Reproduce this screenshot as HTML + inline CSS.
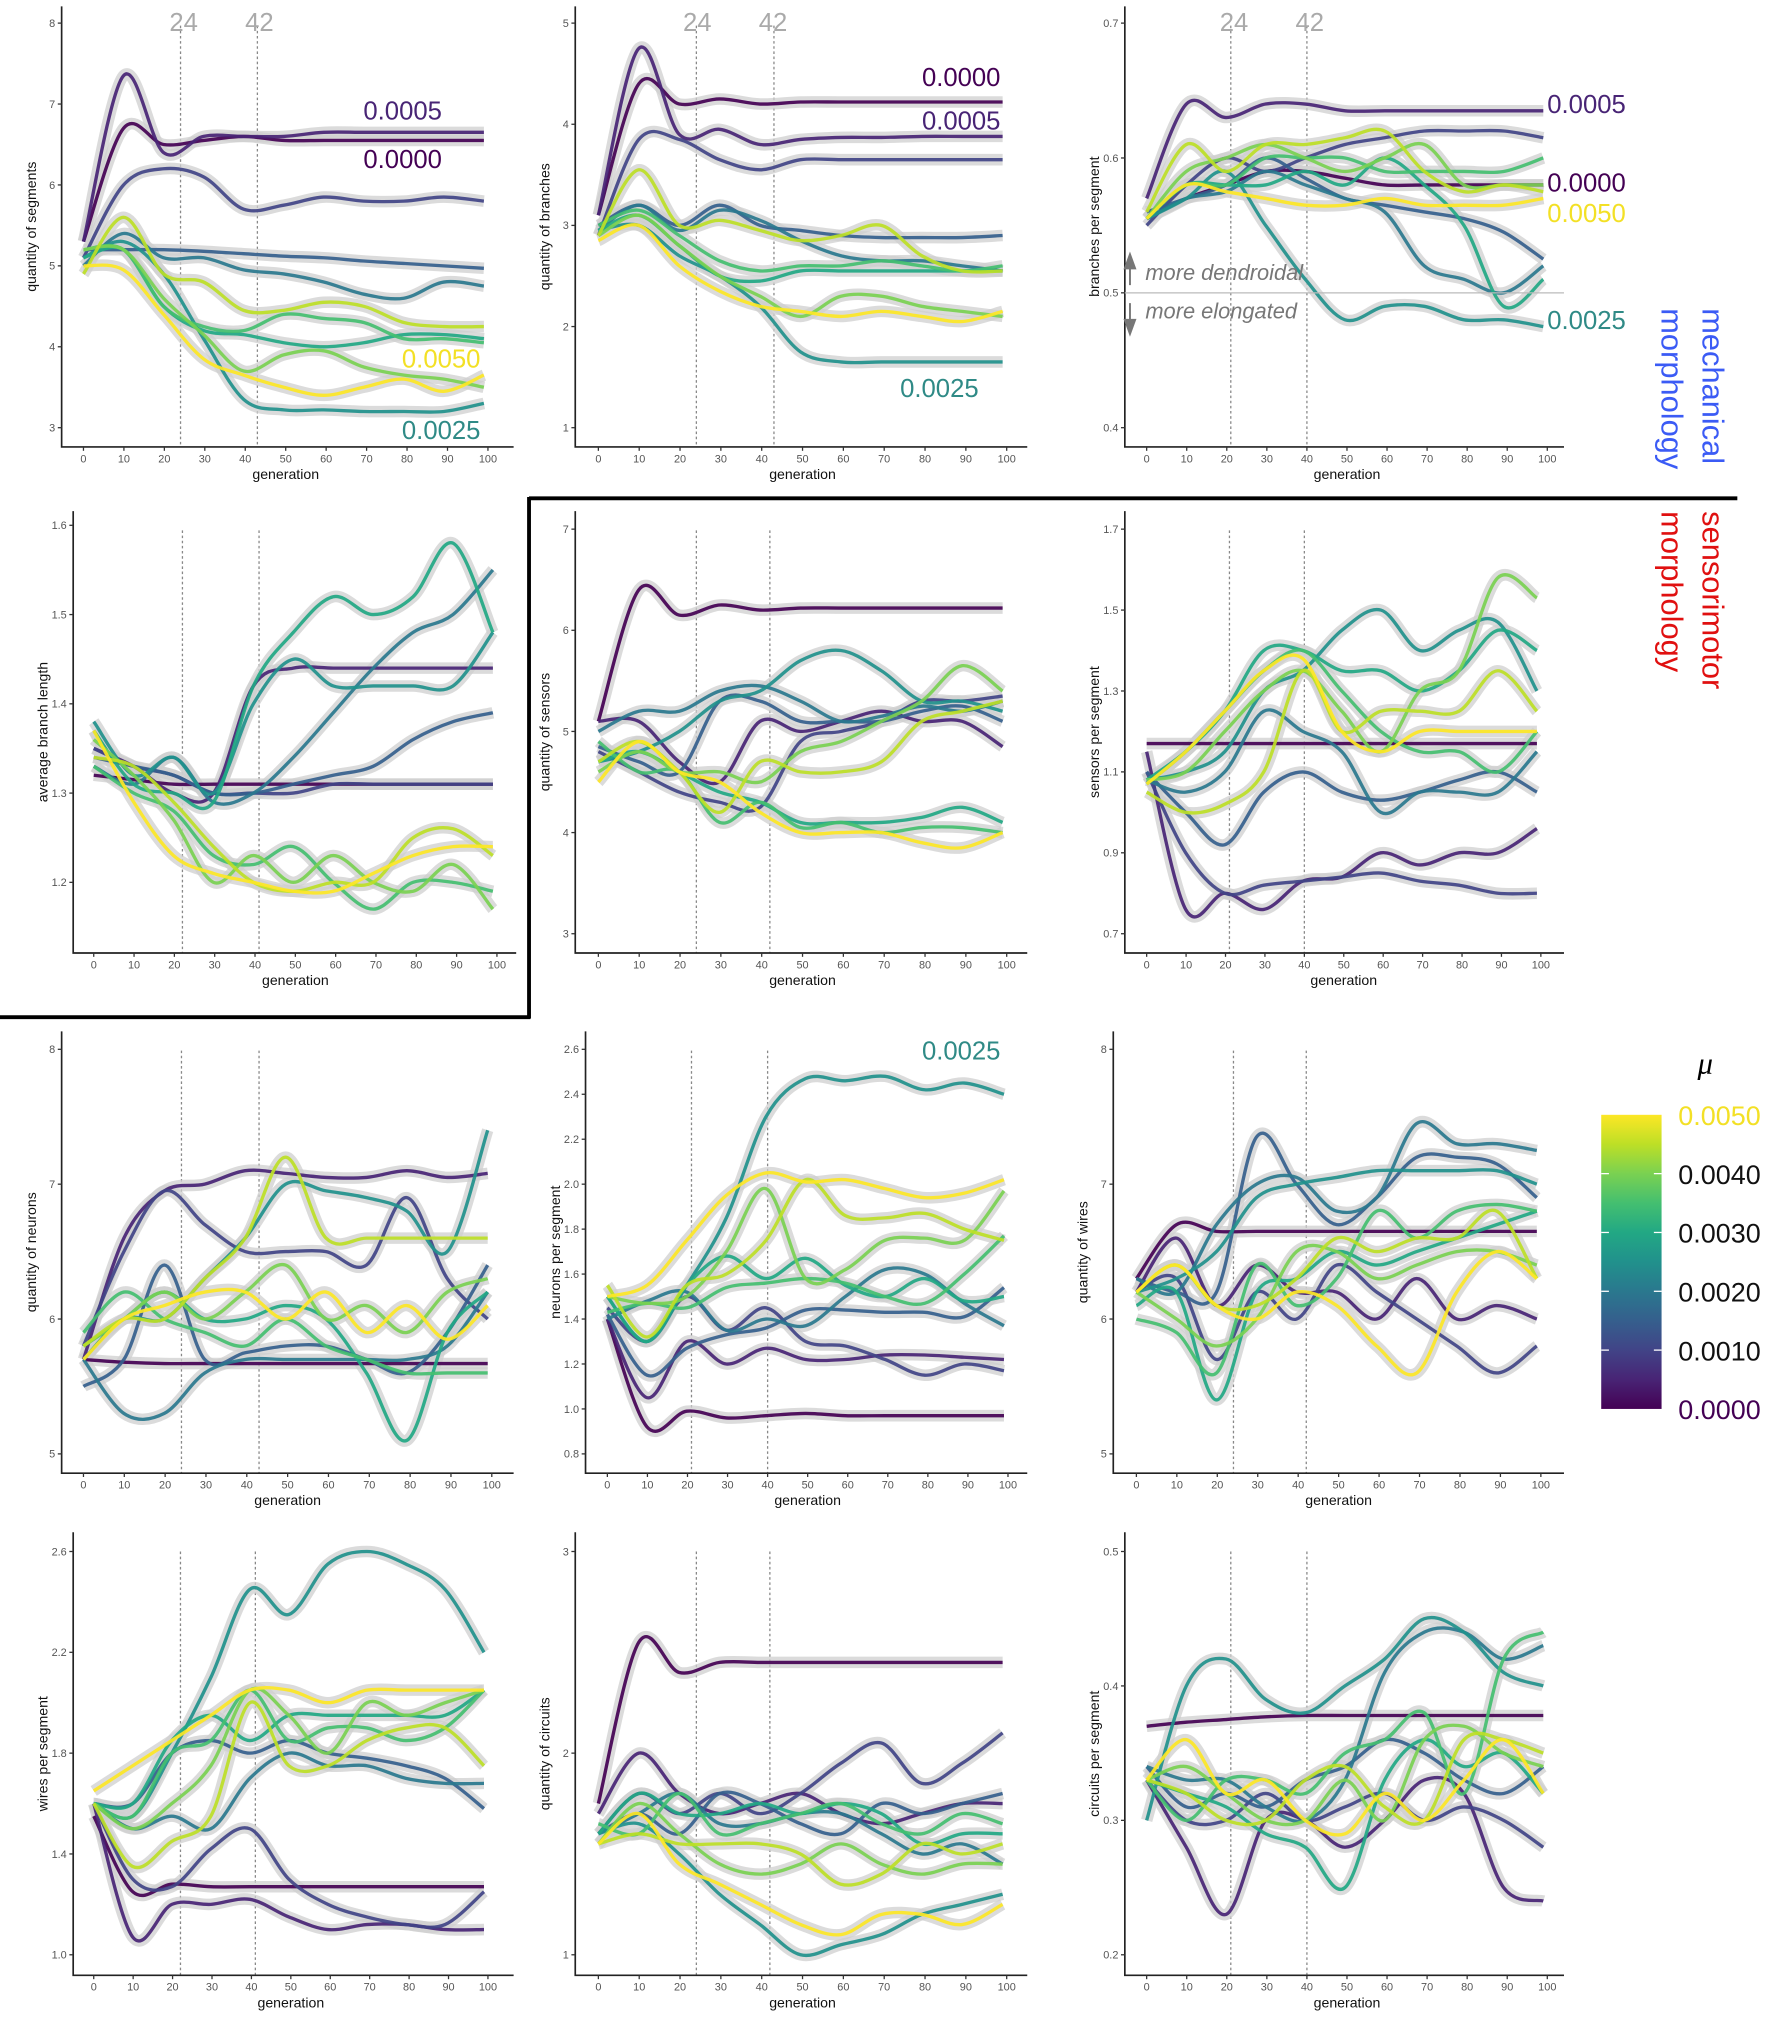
<!DOCTYPE html>
<html><head><meta charset="utf-8"><style>
html,body{margin:0;padding:0;background:#fff;}
svg{display:block;font-family:"Liberation Sans",sans-serif;}
</style></head><body>
<svg id="fig" width="1772" height="2019" viewBox="0 0 1380 1572" preserveAspectRatio="none" xmlns="http://www.w3.org/2000/svg">
<defs><linearGradient id="vir" x1="0" y1="1" x2="0" y2="0">
<stop offset="0" stop-color="#440154"/><stop offset="0.1" stop-color="#482475"/><stop offset="0.2" stop-color="#414487"/><stop offset="0.3" stop-color="#355f8d"/><stop offset="0.4" stop-color="#2a788e"/><stop offset="0.5" stop-color="#21918c"/><stop offset="0.6" stop-color="#22a884"/><stop offset="0.7" stop-color="#44bf70"/><stop offset="0.8" stop-color="#7ad151"/><stop offset="0.9" stop-color="#bddf26"/><stop offset="1" stop-color="#fde725"/></linearGradient></defs>
<g id="panels"></g>
<g id="annot">
<line x1="412" y1="388" x2="1353" y2="388" stroke="#000" stroke-width="3"/>
<line x1="412" y1="387" x2="412" y2="793" stroke="#000" stroke-width="3"/>
<line x1="0" y1="792" x2="413" y2="792" stroke="#000" stroke-width="3"/>
<text transform="translate(1326,240) rotate(90)" font-size="24" fill="#3b5bf5">mechanical</text>
<text transform="translate(1294,240) rotate(90)" font-size="24" fill="#3b5bf5">morphology</text>
<text transform="translate(1326,398) rotate(90)" font-size="24" fill="#e01010">sensorimotor</text>
<text transform="translate(1294,398) rotate(90)" font-size="24" fill="#e01010">morphology</text>
<rect x="1247" y="868" width="47" height="229" fill="url(#vir)"/>
<text x="1322" y="836" font-size="24" font-style="italic" font-family="Liberation Serif,serif">μ</text>
</g>
</svg>
<script>
const gens=[0,10,20,30,40,50,60,70,80,90,100];
const muColors=["#440154","#482475","#414487","#355f8d","#2a788e","#21918c","#22a884","#44bf70","#7ad151","#bddf26","#fde725"];
const cbLabels=["0.0050","0.0040","0.0030","0.0020","0.0010","0.0000"];
// panel 1: quantity of segments
const seg=[[5.3,6.7,6.5,6.55,6.6,6.55,6.55,6.55,6.55,6.55,6.55],[5.3,7.35,6.4,6.6,6.6,6.6,6.65,6.65,6.65,6.65,6.65],[5.1,6.0,6.2,6.1,5.7,5.75,5.85,5.8,5.8,5.85,5.8],[5.2,5.2,5.2,5.18,5.15,5.12,5.1,5.06,5.03,5.0,4.97],[5.0,5.4,5.1,5.1,4.95,4.9,4.8,4.65,4.6,4.8,4.75],[5.1,5.3,4.9,4.1,3.35,3.22,3.22,3.2,3.2,3.2,3.3],[5.1,5.2,4.5,4.2,4.15,4.05,4.0,4.05,4.15,4.15,4.1],[5.2,5.2,4.5,4.25,4.2,4.4,4.35,4.3,4.1,4.1,4.05],[5.2,5.2,4.6,4.15,3.7,3.9,3.95,3.75,3.65,3.6,3.5],[4.9,5.6,4.9,4.8,4.45,4.45,4.55,4.5,4.3,4.25,4.25],[5.0,4.95,4.4,3.85,3.65,3.5,3.4,3.5,3.6,3.45,3.65]];
const bra=[[3.1,4.4,4.2,4.25,4.2,4.22,4.22,4.22,4.22,4.22,4.22],[3.1,4.75,3.9,3.95,3.8,3.85,3.87,3.87,3.88,3.88,3.88],[2.9,3.85,3.85,3.65,3.55,3.65,3.65,3.65,3.65,3.65,3.65],[3.0,3.2,3.0,3.2,3.0,2.95,2.9,2.88,2.88,2.88,2.9],[2.95,3.2,2.95,3.15,3.05,2.85,2.7,2.65,2.65,2.6,2.55],[2.95,3.0,2.7,2.5,2.2,1.75,1.65,1.65,1.65,1.65,1.65],[2.95,3.1,2.8,2.5,2.45,2.55,2.55,2.55,2.55,2.55,2.55],[3.0,3.15,2.9,2.65,2.55,2.6,2.6,2.65,2.6,2.55,2.6],[2.9,3.1,2.8,2.5,2.3,2.1,2.3,2.3,2.2,2.15,2.1],[2.9,3.55,3.0,3.05,2.95,2.85,2.9,3.0,2.7,2.55,2.55],[2.85,3.0,2.6,2.35,2.2,2.15,2.1,2.15,2.1,2.05,2.15]];
const bps=[[0.555,0.57,0.58,0.59,0.59,0.585,0.58,0.58,0.58,0.58,0.58],[0.57,0.64,0.63,0.64,0.64,0.635,0.635,0.635,0.635,0.635,0.635],[0.55,0.58,0.6,0.59,0.6,0.61,0.615,0.62,0.62,0.62,0.615],[0.56,0.57,0.58,0.6,0.585,0.57,0.565,0.56,0.555,0.545,0.525],[0.555,0.57,0.575,0.59,0.58,0.57,0.56,0.52,0.51,0.5,0.52],[0.555,0.57,0.59,0.55,0.51,0.48,0.49,0.49,0.48,0.48,0.475],[0.555,0.58,0.58,0.58,0.59,0.58,0.6,0.58,0.55,0.49,0.51],[0.555,0.58,0.58,0.6,0.6,0.6,0.59,0.59,0.59,0.59,0.6],[0.555,0.59,0.6,0.61,0.6,0.59,0.6,0.61,0.58,0.58,0.58],[0.56,0.61,0.59,0.61,0.61,0.615,0.62,0.59,0.575,0.58,0.575],[0.555,0.58,0.575,0.57,0.565,0.565,0.57,0.565,0.565,0.565,0.57]];
const abl=[[1.32,1.315,1.31,1.31,1.31,1.31,1.31,1.31,1.31,1.31,1.31],[1.35,1.33,1.3,1.3,1.42,1.44,1.44,1.44,1.44,1.44,1.44],[1.35,1.33,1.32,1.3,1.3,1.3,1.31,1.31,1.31,1.31,1.31],[1.34,1.33,1.32,1.3,1.3,1.31,1.32,1.33,1.36,1.38,1.39],[1.33,1.31,1.34,1.29,1.3,1.34,1.39,1.44,1.48,1.5,1.55],[1.38,1.32,1.34,1.3,1.4,1.45,1.42,1.42,1.42,1.42,1.48],[1.37,1.31,1.3,1.29,1.42,1.48,1.52,1.5,1.52,1.58,1.48],[1.33,1.3,1.28,1.23,1.22,1.24,1.2,1.17,1.2,1.2,1.19],[1.36,1.32,1.27,1.2,1.23,1.2,1.23,1.2,1.19,1.22,1.17],[1.34,1.33,1.29,1.24,1.2,1.19,1.2,1.2,1.25,1.26,1.23],[1.37,1.29,1.23,1.21,1.2,1.19,1.19,1.21,1.23,1.24,1.24]];
const sen=[[5.1,6.4,6.15,6.25,6.2,6.22,6.22,6.22,6.22,6.22,6.22],[5.1,5.1,4.7,4.5,5.1,5.0,5.1,5.2,5.1,5.1,4.85],[4.8,4.6,4.4,4.3,4.25,4.9,5.0,5.1,5.3,5.3,5.35],[4.85,4.7,4.6,5.3,5.3,5.1,5.1,5.1,5.2,5.25,5.1],[5.0,5.2,5.2,5.4,5.45,5.3,5.1,5.15,5.25,5.2,5.3],[4.7,4.8,5.0,5.3,5.4,5.7,5.8,5.6,5.3,5.3,5.2],[4.7,4.8,4.6,4.4,4.3,4.1,4.1,4.1,4.15,4.25,4.1],[4.9,4.6,4.6,4.1,4.3,4.05,4.1,4.0,4.05,4.05,4.0],[4.6,4.8,4.6,4.6,4.5,4.8,4.9,5.1,5.3,5.65,5.4],[4.7,4.9,4.6,4.2,4.7,4.6,4.6,4.7,5.1,5.2,5.3],[4.5,4.9,4.6,4.5,4.2,4.0,4.0,4.0,3.9,3.85,4.0]];
const sps=[[1.17,1.17,1.17,1.17,1.17,1.17,1.17,1.17,1.17,1.17,1.17],[1.15,0.76,0.8,0.76,0.83,0.84,0.9,0.87,0.9,0.9,0.96],[1.1,0.9,0.8,0.82,0.83,0.84,0.85,0.83,0.82,0.8,0.8],[1.1,1.0,0.92,1.05,1.1,1.05,1.03,1.05,1.08,1.1,1.05],[1.08,1.05,1.1,1.25,1.2,1.15,1.0,1.05,1.05,1.05,1.15],[1.08,1.1,1.15,1.3,1.35,1.45,1.5,1.4,1.45,1.47,1.3],[1.08,1.15,1.25,1.4,1.4,1.35,1.35,1.3,1.35,1.45,1.4],[1.07,1.15,1.25,1.35,1.4,1.3,1.2,1.15,1.15,1.1,1.2],[1.08,1.1,1.2,1.3,1.35,1.25,1.15,1.3,1.35,1.58,1.53],[1.05,1.0,1.02,1.1,1.35,1.2,1.25,1.25,1.25,1.35,1.25],[1.07,1.15,1.25,1.35,1.38,1.2,1.15,1.2,1.2,1.2,1.2]];
const neu=[[5.7,5.68,5.67,5.67,5.67,5.67,5.67,5.67,5.67,5.67,5.67],[5.7,6.6,6.95,7.0,7.1,7.08,7.05,7.05,7.1,7.05,7.08],[5.8,6.5,6.95,6.7,6.5,6.5,6.5,6.4,6.9,6.3,6.0],[5.5,5.7,6.4,5.7,5.75,5.8,5.8,5.7,5.6,5.9,6.4],[5.7,5.3,5.3,5.6,5.7,5.7,5.7,5.7,5.7,5.8,6.2],[5.7,6.0,6.0,6.3,6.6,7.0,6.95,6.9,6.8,6.5,7.4],[5.8,6.0,6.2,6.0,6.0,6.1,6.0,5.6,5.1,5.9,6.2],[5.9,6.2,6.0,5.9,5.8,6.0,5.8,5.7,5.6,5.6,5.6],[5.8,6.0,6.2,6.0,6.2,6.4,6.0,6.1,5.9,6.2,6.3],[5.8,6.0,6.0,6.3,6.6,7.2,6.6,6.6,6.6,6.6,6.6],[5.7,6.0,6.1,6.2,6.2,6.0,6.2,5.9,6.1,5.85,6.1]];
const nps=[[1.4,0.92,0.99,0.96,0.97,0.98,0.97,0.97,0.97,0.97,0.97],[1.4,1.05,1.3,1.2,1.27,1.22,1.22,1.24,1.24,1.23,1.22],[1.45,1.3,1.5,1.35,1.45,1.3,1.28,1.22,1.15,1.2,1.17],[1.42,1.15,1.27,1.33,1.36,1.44,1.44,1.43,1.43,1.41,1.54],[1.4,1.48,1.52,1.35,1.4,1.37,1.5,1.62,1.6,1.47,1.37],[1.5,1.3,1.55,1.85,2.3,2.47,2.46,2.48,2.42,2.45,2.4],[1.5,1.3,1.55,1.68,1.58,1.67,1.55,1.5,1.58,1.48,1.5],[1.43,1.47,1.45,1.54,1.56,1.58,1.56,1.5,1.47,1.6,1.77],[1.5,1.47,1.5,1.7,1.98,1.58,1.62,1.75,1.76,1.75,1.97],[1.55,1.32,1.55,1.6,1.75,2.02,1.86,1.85,1.87,1.8,1.75],[1.5,1.55,1.75,1.95,2.05,2.01,2.02,1.98,1.94,1.96,2.02]];
const wir=[[6.3,6.7,6.65,6.65,6.65,6.65,6.65,6.65,6.65,6.65,6.65],[6.2,6.6,6.1,6.4,6.2,6.2,6.0,6.3,6.0,6.1,6.0],[6.2,6.3,5.7,6.2,6.0,6.4,6.2,6.0,5.8,5.6,5.8],[6.3,6.2,6.2,7.35,7.0,6.7,6.9,7.2,7.2,7.15,6.9],[6.3,6.2,6.7,7.0,7.05,6.8,6.9,7.45,7.3,7.3,7.25],[6.2,6.3,6.5,6.9,7.0,7.05,7.1,7.1,7.1,7.1,7.0],[6.1,6.2,5.4,6.2,6.3,6.5,6.4,6.5,6.6,6.7,6.8],[6.0,5.9,5.6,6.4,6.1,6.3,6.8,6.6,6.8,6.85,6.8],[6.2,6.0,5.8,6.0,6.5,6.5,6.3,6.4,6.5,6.5,6.4],[6.2,6.4,6.1,6.1,6.3,6.6,6.5,6.6,6.6,6.8,6.3],[6.2,6.4,6.1,6.0,6.2,6.1,5.8,5.6,6.2,6.5,6.3]];
const wps=[[1.55,1.25,1.28,1.27,1.27,1.27,1.27,1.27,1.27,1.27,1.27],[1.6,1.07,1.2,1.2,1.22,1.15,1.1,1.12,1.12,1.1,1.1],[1.6,1.3,1.27,1.42,1.5,1.3,1.2,1.15,1.12,1.12,1.25],[1.6,1.6,1.8,1.85,1.8,1.85,1.8,1.78,1.75,1.7,1.58],[1.6,1.5,1.55,1.5,1.7,1.8,1.75,1.75,1.7,1.68,1.68],[1.6,1.55,1.8,2.1,2.45,2.35,2.55,2.6,2.55,2.45,2.2],[1.6,1.6,1.85,1.95,1.85,1.95,1.95,1.95,1.95,1.95,2.05],[1.6,1.55,1.8,1.85,2.05,1.85,1.9,1.9,1.85,1.9,2.05],[1.6,1.5,1.6,1.75,2.05,1.95,1.8,2.0,1.95,2.0,2.05],[1.6,1.35,1.45,1.55,2.0,1.75,1.75,1.85,1.9,1.9,1.75],[1.65,1.75,1.85,1.95,2.05,2.05,2.0,2.05,2.05,2.05,2.05]];
const cir=[[1.75,2.55,2.4,2.45,2.45,2.45,2.45,2.45,2.45,2.45,2.45],[1.7,2.0,1.8,1.7,1.75,1.8,1.7,1.65,1.7,1.75,1.75],[1.6,1.8,1.7,1.8,1.7,1.8,1.95,2.05,1.85,1.95,2.1],[1.6,1.7,1.6,1.8,1.75,1.65,1.6,1.75,1.7,1.75,1.8],[1.6,1.7,1.8,1.65,1.65,1.7,1.7,1.6,1.5,1.55,1.45],[1.6,1.65,1.5,1.3,1.15,1.0,1.05,1.1,1.2,1.25,1.3],[1.6,1.8,1.7,1.7,1.75,1.7,1.75,1.7,1.55,1.6,1.6],[1.65,1.6,1.8,1.6,1.65,1.7,1.75,1.65,1.6,1.7,1.65],[1.55,1.75,1.6,1.45,1.4,1.45,1.55,1.45,1.4,1.45,1.45],[1.55,1.6,1.55,1.55,1.55,1.5,1.35,1.4,1.55,1.5,1.55],[1.55,1.7,1.45,1.35,1.25,1.15,1.1,1.2,1.2,1.15,1.25]];
const cps=[[0.37,0.373,0.375,0.377,0.378,0.378,0.378,0.378,0.378,0.378,0.378],[0.33,0.28,0.23,0.3,0.3,0.28,0.3,0.33,0.32,0.25,0.24],[0.33,0.3,0.3,0.32,0.3,0.31,0.32,0.3,0.31,0.3,0.28],[0.34,0.31,0.32,0.31,0.33,0.34,0.36,0.35,0.33,0.32,0.34],[0.34,0.33,0.33,0.31,0.3,0.33,0.41,0.44,0.44,0.42,0.43],[0.3,0.4,0.42,0.39,0.38,0.4,0.42,0.45,0.44,0.41,0.4],[0.33,0.32,0.31,0.29,0.28,0.25,0.33,0.36,0.34,0.35,0.32],[0.33,0.3,0.33,0.33,0.32,0.35,0.36,0.38,0.32,0.42,0.44],[0.33,0.34,0.32,0.3,0.3,0.33,0.3,0.36,0.37,0.35,0.34],[0.33,0.32,0.3,0.3,0.33,0.34,0.31,0.3,0.36,0.36,0.35],[0.33,0.36,0.32,0.33,0.3,0.29,0.32,0.3,0.33,0.36,0.32]];
const xTicks=[0,10,20,30,40,50,60,70,80,90,100];

// layout: ax=y-axis x, g0/g100 px of gen 0/100, top/bot axis line, yv0/yp0 & yv1/yp1 value->pixel mapping
const panels=[
 {name:"segments",title:"quantity of segments",data:seg,ticks:[3,4,5,6,7,8],ax:48,xe:400,g0:65,g100:380,top:5,bot:348,v0:3,p0:333,v1:8,p1:18,vl:[24,43]},
 {name:"branches",title:"quantity of branches",data:bra,ticks:[1,2,3,4,5],ax:448,xe:800,g0:466,g100:784,top:5,bot:348,v0:1,p0:333,v1:5,p1:18,vl:[24,43]},
 {name:"branches-per-segment",title:"branches per segment",data:bps,ticks:[0.4,0.5,0.6,0.7],ax:876,xe:1218,g0:893,g100:1205,top:5,bot:348,v0:0.4,p0:333,v1:0.7,p1:18,vl:[21,40]},
 {name:"branch-length",title:"average branch length",data:abl,ticks:[1.2,1.3,1.4,1.5,1.6],ax:57,xe:402,g0:73,g100:387,top:398,bot:742,v0:1.2,p0:687,v1:1.6,p1:409,vl:[22,41]},
 {name:"sensors",title:"quantity of sensors",data:sen,ticks:[3,4,5,6,7],ax:448,xe:800,g0:466,g100:784,top:398,bot:742,v0:3,p0:727,v1:7,p1:412,vl:[24,42]},
 {name:"sensors-per-segment",title:"sensors per segment",data:sps,ticks:[0.7,0.9,1.1,1.3,1.5,1.7],ax:876,xe:1218,g0:893,g100:1200,top:398,bot:742,v0:0.7,p0:727,v1:1.7,p1:412,vl:[21,40]},
 {name:"neurons",title:"quantity of neurons",data:neu,ticks:[5,6,7,8],ax:48,xe:400,g0:65,g100:383,top:803,bot:1147,v0:5,p0:1132,v1:8,p1:817,vl:[24,43]},
 {name:"neurons-per-segment",title:"neurons per segment",data:nps,ticks:[0.8,1.0,1.2,1.4,1.6,1.8,2.0,2.2,2.4,2.6],ax:456,xe:800,g0:473,g100:785,top:803,bot:1147,v0:0.8,p0:1132,v1:2.6,p1:817,vl:[21,40]},
 {name:"wires",title:"quantity of wires",data:wir,ticks:[5,6,7,8],ax:867,xe:1218,g0:885,g100:1200,top:803,bot:1147,v0:5,p0:1132,v1:8,p1:817,vl:[24,42]},
 {name:"wires-per-segment",title:"wires per segment",data:wps,ticks:[1.0,1.4,1.8,2.2,2.6],ax:57,xe:400,g0:73,g100:380,top:1193,bot:1538,v0:1.0,p0:1522,v1:2.6,p1:1208,vl:[22,41]},
 {name:"circuits",title:"quantity of circuits",data:cir,ticks:[1,2,3],ax:448,xe:800,g0:466,g100:784,top:1193,bot:1538,v0:1,p0:1522,v1:3,p1:1208,vl:[24,42]},
 {name:"circuits-per-segment",title:"circuits per segment",data:cps,ticks:[0.2,0.3,0.4,0.5],ax:876,xe:1218,g0:893,g100:1205,top:1193,bot:1538,v0:0.2,p0:1522,v1:0.5,p1:1208,vl:[21,40]}
];
const NS="http://www.w3.org/2000/svg";
function mk(t,a,p){const e=document.createElementNS(NS,t);for(const k in a)e.setAttribute(k,a[k]);p.appendChild(e);return e;}
function smooth(pts){let d="M"+pts[0][0]+","+pts[0][1];for(let i=0;i<pts.length-1;i++){const p0=pts[Math.max(i-1,0)],p1=pts[i],p2=pts[i+1],p3=pts[Math.min(i+2,pts.length-1)];d+=" C"+(p1[0]+(p2[0]-p0[0])/6)+","+(p1[1]+(p2[1]-p0[1])/6)+" "+(p2[0]-(p3[0]-p1[0])/6)+","+(p2[1]-(p3[1]-p1[1])/6)+" "+p2[0]+","+p2[1];}return d;}
const root=document.getElementById("panels");
panels.forEach(P=>{
 const g=mk("g",{},root);
 
 
 const xs=v=>P.g0+(P.g100-P.g0)*v/100;
 const ys=v=>P.p0+(P.p1-P.p0)*(v-P.v0)/(P.v1-P.v0);
 P.vl.forEach(v=>{const l=mk("line",{x1:xs(v),x2:xs(v),y1:P.top+(P.top<10?15:15),y2:P.bot,stroke:"#888","stroke-width":1,"stroke-dasharray":"2,2"},g);
  
  });
 const bands=mk("g",{},g);
 const lines=mk("g",{},g);
 P.data.forEach((s,i)=>{
  const pts=s.map((v,j)=>[xs(gens[j]*0.99),ys(v)]);
  const d=smooth(pts);
  const b=mk("path",{d:d,fill:"none",stroke:"#cfcfcf","stroke-width":9,"stroke-opacity":0.75,"stroke-linecap":"butt"},bands);
  
  
  const p=mk("path",{d:d,fill:"none",stroke:muColors[i],"stroke-width":2.6,opacity:0.92},lines);
  
  
 });
 const ax=mk("path",{d:`M${P.ax},${P.top} V${P.bot} H${P.xe}`,fill:"none",stroke:"#222","stroke-width":1.3},g);
 
 
 P.ticks.forEach(t=>{const y=ys(t);mk("line",{x1:P.ax-3,x2:P.ax,y1:y,y2:y,stroke:"#333"},g);
  const tx=mk("text",{x:P.ax-5,y:y+3,"font-size":8.5,fill:"#555","text-anchor":"end"},g);tx.textContent=String(t%1===0&&P.v1-P.v0<2?t.toFixed(1):t);
  
  });
 xTicks.forEach(t=>{const x=xs(t);mk("line",{x1:x,x2:x,y1:P.bot,y2:P.bot+3,stroke:"#333"},g);
  const tx=mk("text",{x:x,y:P.bot+12,"font-size":8.5,fill:"#555","text-anchor":"middle"},g);tx.textContent=t;
  
  });
 const xt=mk("text",{x:(P.g0+P.g100)/2,y:P.bot+25,"font-size":11,fill:"#111","text-anchor":"middle"},g);xt.textContent="generation";
 
 
 const cy=(P.top+P.bot)/2;
 const yt=mk("text",{transform:`translate(${P.ax-20},${cy}) rotate(-90)`,"font-size":11,fill:"#111","text-anchor":"middle"},g);yt.textContent=P.title;
 
 
});
const an=document.getElementById("annot");
function lab(x,y,t,c,s,name,anchor){const e=mk("text",{x:x,y:y,"font-size":s,fill:c,"text-anchor":anchor||"start"},an);e.textContent=t;
 
 return e;}
[[143,24],[202,24],[543,24],[602,24],[961,24],[1020,24]].forEach((p,i)=>lab(p[0],p[1],i%2?"42":"24","#aaa",20,"generation-marker","middle"));
lab(283,93,"0.0005","#482475",20,"label-mu-0005");
lab(283,131,"0.0000","#440154",20,"label-mu-0000");
lab(313,286,"0.0050","#f3e025",20,"label-mu-0050");
lab(313,342,"0.0025","#2f8a86",20,"label-mu-0025");
lab(718,67,"0.0000","#440154",20,"label-mu-0000");
lab(718,101,"0.0005","#482475",20,"label-mu-0005");
lab(701,309,"0.0025","#2f8a86",20,"label-mu-0025");
lab(1205,88,"0.0005","#482475",20,"label-mu-0005");
lab(1205,149,"0.0000","#440154",20,"label-mu-0000");
lab(1205,173,"0.0050","#f3e025",20,"label-mu-0050");
lab(1205,256,"0.0025","#2f8a86",20,"label-mu-0025");
lab(718,825,"0.0025","#2f8a86",20,"label-mu-0025");
const hl=mk("line",{x1:876,x2:1218,y1:228,y2:228,stroke:"#bbb","stroke-width":1},an);


const ar=mk("path",{d:"M880,222 V205 M876,209 L880,198 L884,209 Z M880,236 V253 M876,249 L880,260 L884,249 Z",stroke:"#777",fill:"#777","stroke-width":1.5},an);


lab(892,218,"more dendroidal","#777",17,"label-more-dendroidal").setAttribute("font-style","italic");
lab(892,248,"more elongated","#777",17,"label-more-elongated").setAttribute("font-style","italic");
cbLabels.forEach((t,i)=>{const y=868+i*229/5;
 const c=i===0?"#f3e025":(i===5?"#440154":"#111");
 lab(1307,y+8,t,c,21,"colorbar-label");
 if(i>0&&i<5){mk("line",{x1:1247,x2:1253,y1:y,y2:y,stroke:"#fff"},an);mk("line",{x1:1288,x2:1294,y1:y,y2:y,stroke:"#fff"},an);}
});
</script>
</body></html>
